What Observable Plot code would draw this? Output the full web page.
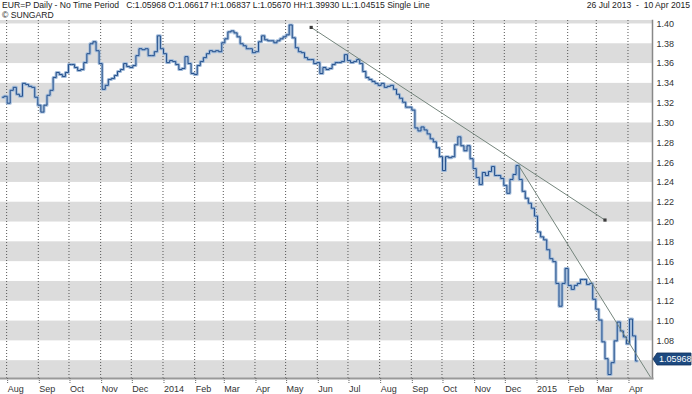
<!DOCTYPE html>
<html><head><meta charset="utf-8">
<script src="https://cdn.jsdelivr.net/npm/d3@7"></script>
<script src="https://cdn.jsdelivr.net/npm/@observablehq/plot@0.6"></script>
<style>
body{margin:0;background:#fff;}
#wrap{position:relative;width:692px;height:394px;font-family:"Liberation Sans",Arial,sans-serif;overflow:hidden;}
.hdr{position:absolute;font-size:8.6px;color:#222;white-space:pre;line-height:10px;}
</style></head><body><div id="wrap"></div>
<script>
// ---- data ----
const headerLeft = "EUR=P Daily - No Time Period   C:1.05968 O:1.06617 H:1.06837 L:1.05670 HH:1.39930 LL:1.04515 Single Line";
const headerRight = "26 Jul 2013  -  10 Apr 2015";
const credit = "© SUNGARD";
const startDate = "2013-07-28";
const stepDays = 3;
const closes = [
  1.326, 1.327, 1.320, 1.333, 1.336, 1.329, 1.327, 1.340, 1.339, 1.337,
  1.336, 1.326, 1.318, 1.311, 1.318, 1.328, 1.333, 1.346, 1.351, 1.349,
  1.347, 1.351, 1.359, 1.359, 1.356, 1.353, 1.354, 1.361, 1.370, 1.380,
  1.382, 1.373, 1.360, 1.334, 1.338, 1.344, 1.345, 1.348, 1.352, 1.354,
  1.360, 1.357, 1.356, 1.358, 1.368, 1.375, 1.374, 1.375, 1.368, 1.368,
  1.372, 1.388, 1.375, 1.370, 1.361, 1.363, 1.362, 1.359, 1.354, 1.355,
  1.367, 1.360, 1.350, 1.349, 1.358, 1.362, 1.366, 1.370, 1.373, 1.372,
  1.373, 1.372, 1.381, 1.385, 1.392, 1.393, 1.391, 1.387, 1.380, 1.378,
  1.375, 1.375, 1.371, 1.372, 1.382, 1.388, 1.384, 1.383, 1.383, 1.381,
  1.383, 1.385, 1.387, 1.389, 1.399, 1.386, 1.376, 1.372, 1.371, 1.366,
  1.364, 1.364, 1.360, 1.361, 1.350, 1.356, 1.354, 1.355, 1.359, 1.361,
  1.361, 1.362, 1.369, 1.363, 1.361, 1.362, 1.364, 1.360, 1.352, 1.346,
  1.344, 1.342, 1.340, 1.338, 1.340, 1.336, 1.337, 1.338, 1.334, 1.329,
  1.325, 1.321, 1.316, 1.316, 1.313, 1.295, 1.292, 1.296, 1.293, 1.289,
  1.284, 1.281, 1.275, 1.266, 1.252, 1.266, 1.265, 1.266, 1.278, 1.286,
  1.277, 1.272, 1.277, 1.264, 1.254, 1.245, 1.238, 1.250, 1.247, 1.251,
  1.256, 1.247, 1.247, 1.244, 1.237, 1.229, 1.243, 1.248, 1.257, 1.243,
  1.231, 1.224, 1.219, 1.214, 1.206, 1.190, 1.185, 1.182, 1.172, 1.163,
  1.160, 1.138, 1.115, 1.138, 1.153, 1.136, 1.132, 1.136, 1.138, 1.142,
  1.142, 1.137, 1.138, 1.122, 1.112, 1.101, 1.079, 1.062, 1.046, 1.058,
  1.080, 1.099, 1.090, 1.084, 1.077, 1.102, 1.085, 1.05968
];
const lastClose = 1.05968;
const yTicks = [1.08, 1.10, 1.12, 1.14, 1.16, 1.18, 1.20, 1.22, 1.24, 1.26, 1.28, 1.30, 1.32, 1.34, 1.36, 1.38, 1.40];
const bandLows = [1.04, 1.08, 1.12, 1.16, 1.20, 1.24, 1.28, 1.32, 1.36, 1.40];
const monthTicks = ["2013-08-01","2013-09-01","2013-10-01","2013-11-01","2013-12-01","2014-01-01","2014-02-01","2014-03-01","2014-04-01","2014-05-01","2014-06-01","2014-07-01","2014-08-01","2014-09-01","2014-10-01","2014-11-01","2014-12-01","2015-01-01","2015-02-01","2015-03-01","2015-04-01"];
const trend1 = [{date: "2014-05-26", price: 1.3965}, {date: "2015-03-09T12:00Z", price: 1.202}];
const trend2 = [{date: "2014-12-15", price: 1.2571}, {date: "2015-04-23", price: 1.0434}];
const xDomain = ["2013-07-26", "2015-04-25"];
const yDomain = [1.042, 1.4035];

// ---- build ----
const series = closes.map((c, i) => ({date: d3.utcDay.offset(new Date(startDate), stepDays * i), close: c}));
const ticks = monthTicks.map(d => new Date(d));
const t1 = trend1.map(d => ({date: new Date(d.date), price: d.price}));
const t2 = trend2.map(d => ({date: new Date(d.date), price: d.price}));
const xd = xDomain.map(d => new Date(d));
const fmtMonth = d3.utcFormat("%b");

function priceTag(index, scales, values, dim) {
  const y = scales.y(lastClose) - 1.5;
  const x0 = dim.width - dim.marginRight + 1;
  const g = d3.create("svg:g");
  g.append("path")
    .attr("d", `M${x0},${y} L${x0 + 4},${y - 6} H${dim.width - 1} V${y + 6} H${x0 + 4} Z`)
    .attr("fill", "#1d4a80").attr("stroke", "#0f2f5a").attr("stroke-width", 0.8);
  g.append("text").attr("x", x0 + 6).attr("y", y).attr("dy", "0.35em")
    .attr("text-anchor", "start")
    .attr("fill", "white").attr("font-size", 9).text(lastClose.toFixed(5));
  return g.node();
}

const chart = Plot.plot({
  width: 692, height: 394,
  marginTop: 20, marginBottom: 16, marginLeft: 0, marginRight: 40,
  x: {type: "utc", domain: xd},
  y: {domain: yDomain},
  style: {fontFamily: '"Liberation Sans", Arial, sans-serif', fontSize: "9px", color: "#333", background: "white", overflow: "visible"},
  marks: [
    Plot.rect(bandLows, {x1: () => xd[0], x2: () => xd[1], y1: d => d, y2: d => d + 0.02, fill: "#dcdcdc", clip: true}),
    Plot.ruleX(ticks, {stroke: "#555", strokeDasharray: "1,2", strokeWidth: 1}),
    Plot.line(series, {x: "date", y: "close", stroke: "#a3bcda", strokeWidth: 3, curve: "step"}),
    Plot.line(series, {x: "date", y: "close", stroke: "#24508c", strokeWidth: 1, curve: "step"}),
    Plot.line(t1, {x: "date", y: "price", stroke: "#74857c", strokeWidth: 1}),
    Plot.line(t2, {x: "date", y: "price", stroke: "#74857c", strokeWidth: 1, clip: true}),
    Plot.dot(t1, {x: "date", y: "price", symbol: "square", r: 1.8, fill: "#3b3b3b"}),
    Plot.frame({anchor: "right", stroke: "#888", strokeWidth: 1.5}),
    Plot.frame({anchor: "bottom", stroke: "#999", strokeWidth: 2}),
    Plot.axisY(yTicks, {anchor: "right", tickSize: 0, tickPadding: 4, tickFormat: d => d.toFixed(2), fill: "#333"}),
    Plot.axisX(ticks, {anchor: "bottom", tickSize: 5, tickPadding: 2, textAnchor: "start", dx: 1, stroke: "#666", strokeDasharray: "1,1",
      tickFormat: d => d.getUTCMonth() === 0 ? String(d.getUTCFullYear()) : fmtMonth(d)}),
    priceTag
  ]
});

const wrap = document.getElementById("wrap");
wrap.appendChild(chart);
const h1 = document.createElement("div"); h1.className = "hdr"; h1.style.left = "2px"; h1.style.top = "0px"; h1.textContent = headerLeft; wrap.appendChild(h1);
const h2 = document.createElement("div"); h2.className = "hdr"; h2.style.right = "2px"; h2.style.top = "0px"; h2.textContent = headerRight; wrap.appendChild(h2);
const h3 = document.createElement("div"); h3.className = "hdr"; h3.style.left = "2px"; h3.style.top = "10px"; h3.textContent = credit; wrap.appendChild(h3);
</script></body></html>
